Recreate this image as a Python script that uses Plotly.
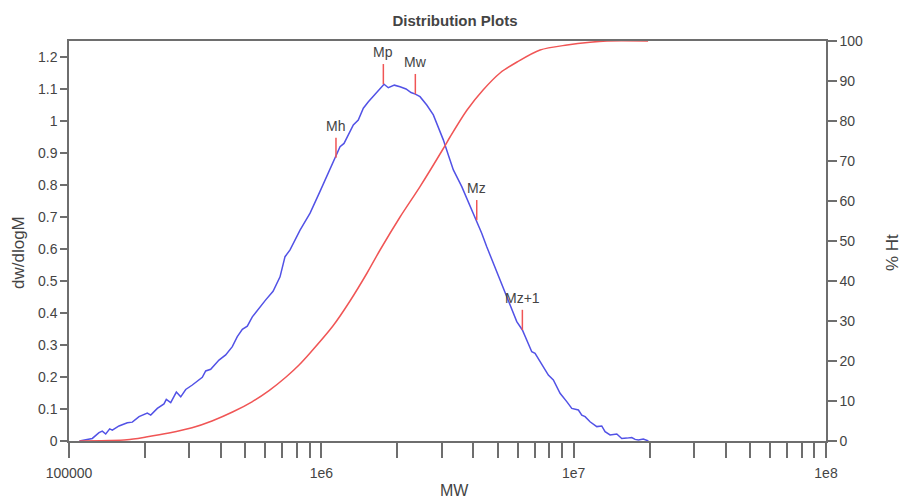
import math
import plotly.graph_objects as go

# Differential distribution: molecular weight vs dw/dlogM
mw_dist = [
    110000, 114600, 123700, 131500, 135500, 139800, 145000, 148500, 157800,
    170300, 178200, 189500, 204300, 210800, 223900, 237900, 243000, 253000,
    266300, 277200, 290100, 308100, 327500, 337500, 348100, 364400, 393000,
    417800, 443800, 464500, 486300, 508900, 532700, 557600, 580500, 602000,
    643700, 686000, 718000, 751600, 823500, 902300, 988100, 1050500, 1133000,
    1186000, 1230000, 1279000, 1339000, 1401000, 1467000, 1536000, 1632000,
    1709000, 1772000, 1843000, 1947000, 2051000, 2166000, 2267000, 2358000,
    2461000, 2617000, 2779000, 2909000, 3044000, 3186000, 3336000, 3602000,
    3824000, 4129000, 4321000, 4524000, 4806000, 5108000, 5428000, 5596000,
    5950000, 6262000, 6518000, 6823000, 7031000, 7361000, 7937000, 8308000,
    8834000, 9390000, 9829000, 10440000, 10770000, 11100000, 11610000,
    12350000, 12920000, 13320000, 13940000, 14820000, 15510000, 16230000,
    16990000, 17520000, 18050000, 18890000, 19780000,
]
dwdlogm = [
    0.0, 0.003, 0.008, 0.026, 0.031, 0.022, 0.038, 0.034, 0.047,
    0.057, 0.059, 0.076, 0.087, 0.081, 0.102, 0.116, 0.130, 0.120,
    0.153, 0.138, 0.161, 0.175, 0.193, 0.199, 0.219, 0.224, 0.253,
    0.269, 0.295, 0.326, 0.349, 0.359, 0.388, 0.409, 0.425, 0.441,
    0.468, 0.513, 0.576, 0.597, 0.659, 0.712, 0.780, 0.826, 0.883,
    0.920, 0.930, 0.956, 0.988, 1.003, 1.040, 1.060, 1.083,
    1.099, 1.115, 1.104, 1.112, 1.107, 1.100, 1.089, 1.084,
    1.076, 1.050, 1.019, 0.982, 0.941, 0.894, 0.847, 0.795,
    0.748, 0.690, 0.649, 0.607, 0.555, 0.503, 0.456, 0.425,
    0.373, 0.347, 0.316, 0.279, 0.274, 0.248, 0.206, 0.191,
    0.149, 0.123, 0.102, 0.097, 0.081, 0.076, 0.060,
    0.045, 0.047, 0.029, 0.019, 0.022, 0.008, 0.009,
    0.011, 0.005, 0.003, 0.006, 0.0,
]

# Cumulative distribution: molecular weight vs % Ht
mw_cum = [
    110000, 144100, 169800, 202000, 249000, 307300, 368700, 446700, 531200,
    620500, 724800, 815900, 902300, 1113000, 1299000, 1518000, 1709000,
    2051000, 2461000, 3036000, 3236000, 3780000, 4375000, 5108000, 5966000,
    7361000, 9415000, 11610000, 13560000, 19720000,
]
pct_ht = [
    0.0, 0.1, 0.3, 1.0, 2.0, 3.3, 5.0, 7.3, 9.8,
    12.6, 16.0, 19.0, 22.0, 28.8, 35.0, 42.0, 47.75,
    56.0, 63.6, 73.0, 76.0, 82.75, 87.75, 92.0, 94.75,
    97.75, 99.0, 99.7, 100.0, 100.0,
]

# Molecular weight averages and the curve height at each
avg_names = ["Mh", "Mp", "Mw", "Mz", "Mz+1"]
avg_mw = [1143000, 1761000, 2358000, 4129000, 6262000]
avg_height = [0.885, 1.115, 1.084, 0.690, 0.347]
stub = 0.063

decades = [1e5, 1e6, 1e7, 1e8]
decade_text = ["100000", "1e6", "1e7", "1e8"]
left_ticks = [0, 0.1, 0.2, 0.3, 0.4, 0.5, 0.6, 0.7, 0.8, 0.9, 1.0, 1.1, 1.2]
left_text = ["0", "0.1", "0.2", "0.3", "0.4", "0.5", "0.6", "0.7", "0.8", "0.9", "1", "1.1", "1.2"]
right_ticks = [0, 10, 20, 30, 40, 50, 60, 70, 80, 90, 100]

x_tick_vals, x_tick_text = [], []
for i, d in enumerate(decades):
    x_tick_vals.append(d)
    x_tick_text.append(decade_text[i])
    if d < 1e8:
        for k in range(2, 10):
            x_tick_vals.append(d * k)
            x_tick_text.append("")

BLUE = "#5252e6"
RED = "#f05555"
AXIS = "#6e6e6e"
TEXT = "#444444"
SANS = "Liberation Sans, Arial, sans-serif"

W, H = 902, 501
L, R, T, B = 69, 76, 41, 60
PW, PH = W - L - R, H - T - B


def px_to_paper(px, py):
    # convert figure pixels into plot-area (paper) fractions
    return (px - L) / PW, (H - B - py) / PH


fig = go.Figure()
fig.add_trace(go.Scatter(x=mw_dist, y=dwdlogm, mode="lines",
                         line=dict(color=BLUE, width=1.5), yaxis="y",
                         hoverinfo="skip", showlegend=False))
fig.add_trace(go.Scatter(x=mw_cum, y=pct_ht, mode="lines",
                         line=dict(color=RED, width=1.5, shape="spline", smoothing=0.8),
                         yaxis="y2", hoverinfo="skip", showlegend=False))

# Short red stubs above the curve at each average
sx, sy = [], []
for m, h in zip(avg_mw, avg_height):
    sx += [m, m, None]
    sy += [h, h + stub, None]
fig.add_trace(go.Scatter(x=sx, y=sy, mode="lines", line=dict(color=RED, width=1.5),
                         yaxis="y", hoverinfo="skip", showlegend=False))

for name, m, h in zip(avg_names, avg_mw, avg_height):
    fig.add_annotation(x=math.log10(m), y=h + stub, xref="x", yref="y",
                       text=name, showarrow=False, yanchor="bottom", xanchor="center",
                       yshift=2, font=dict(family=SANS, size=14, color=TEXT))

# Axis titles
for text, (px, py), angle, size in [
    ("dw/dlogM", (18, 253), -90, 17),
    ("% Ht", (892, 253), -90, 17),
    ("MW", (455, 490), 0, 16),
]:
    ax_, ay_ = px_to_paper(px, py)
    fig.add_annotation(x=ax_, y=ay_, xref="paper", yref="paper", text=text,
                       textangle=angle, showarrow=False, xanchor="center", yanchor="middle",
                       font=dict(family=SANS, size=size, color=TEXT))

fig.update_layout(
    width=W, height=H,
    margin=dict(l=L, r=R, t=T, b=B),
    paper_bgcolor="white", plot_bgcolor="white",
    title=dict(text="<b>Distribution Plots</b>", x=455 / W, xanchor="center",
               y=1 - 21 / H, yanchor="middle", font=dict(family=SANS, size=15, color=TEXT)),
    xaxis=dict(type="log", range=[5, 8], tickmode="array", tickvals=x_tick_vals,
               ticktext=x_tick_text, ticks="outside", ticklen=15, tickwidth=1.5,
               tickcolor=AXIS, showline=True, linecolor=AXIS, linewidth=1.5,
               mirror=True, showgrid=False, zeroline=False, ticklabelstandoff=3,
               tickfont=dict(family=SANS, size=14, color=TEXT)),
    yaxis=dict(range=[0, 1.25], tickmode="array", tickvals=left_ticks, ticktext=left_text,
               ticks="outside", ticklen=7, tickwidth=1.5, tickcolor=AXIS,
               showline=True, linecolor=AXIS, linewidth=1.5, showgrid=False, zeroline=False,
               tickfont=dict(family=SANS, size=14, color=TEXT)),
    yaxis2=dict(range=[0, 100], overlaying="y", side="right", tickmode="array",
                tickvals=right_ticks, ticks="outside", ticklen=9, tickwidth=1.5,
                tickcolor=AXIS, showline=True, linecolor=AXIS, linewidth=1.5,
                showgrid=False, zeroline=False,
                tickfont=dict(family=SANS, size=14, color=TEXT)),
)

fig.write_html("out.html")
